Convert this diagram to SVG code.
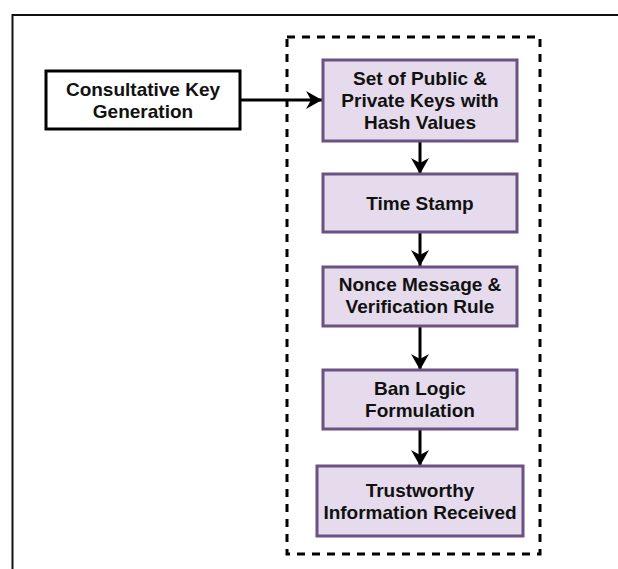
<svg xmlns="http://www.w3.org/2000/svg" width="618" height="569" viewBox="0 0 618 569">
  <style>
    .t { font-family: "Liberation Sans", Arial, sans-serif; font-weight: bold; font-size: 19px; fill: #111; text-anchor: middle; }
    .step { fill: #e5dbec; stroke: #6b5282; stroke-width: 3; }
    .plain { fill: #ffffff; stroke: #000; stroke-width: 3; }
    .conn { stroke: #000; stroke-width: 3; fill: none; }
  </style>
  <defs>
    <marker id="ah" markerUnits="userSpaceOnUse" viewBox="0 0 16 18" refX="16" refY="9" markerWidth="16" markerHeight="18" orient="auto">
      <path d="M0,0 L16,9 L0,18 L5,9 Z" fill="#000"/>
    </marker>
  </defs>
  <rect width="618" height="569" fill="#ffffff"/>
  <g id="frame">
    <path d="M12.5,569 V15 H618" fill="none" stroke="#111" stroke-width="2"/>
  </g>
  <g id="group-box">
    <rect x="287" y="37" width="253" height="517" fill="none" stroke="#000" stroke-width="3" stroke-dasharray="8 7"/>
  </g>
  <g id="connectors">
    <line class="conn" x1="240" y1="100" x2="322" y2="100" marker-end="url(#ah)"/>
    <line class="conn" x1="420" y1="142" x2="420" y2="174" marker-end="url(#ah)"/>
    <line class="conn" x1="420" y1="233" x2="420" y2="266" marker-end="url(#ah)"/>
    <line class="conn" x1="420" y1="326" x2="420" y2="370" marker-end="url(#ah)"/>
    <line class="conn" x1="420" y1="430" x2="420" y2="466" marker-end="url(#ah)"/>
  </g>
  <g id="consultative-key-generation">
    <rect class="plain" x="46" y="71" width="194" height="58"/>
    <text class="t" x="143" y="96">Consultative Key</text>
    <text class="t" x="143" y="118">Generation</text>
  </g>
  <g id="public-private-keys">
    <rect class="step" x="323" y="60" width="194" height="81"/>
    <text class="t" x="420" y="85">Set of Public &amp;</text>
    <text class="t" x="420" y="107">Private Keys with</text>
    <text class="t" x="420" y="129">Hash Values</text>
  </g>
  <g id="time-stamp">
    <rect class="step" x="323" y="174" width="194" height="58"/>
    <text class="t" x="420" y="210">Time Stamp</text>
  </g>
  <g id="nonce-message">
    <rect class="step" x="323" y="267" width="194" height="59"/>
    <text class="t" x="420" y="291">Nonce Message &amp;</text>
    <text class="t" x="420" y="313">Verification Rule</text>
  </g>
  <g id="ban-logic">
    <rect class="step" x="323" y="370" width="194" height="59"/>
    <text class="t" x="420" y="395">Ban Logic</text>
    <text class="t" x="420" y="417">Formulation</text>
  </g>
  <g id="trustworthy-information">
    <rect class="step" x="317" y="466" width="206" height="70"/>
    <text class="t" x="420" y="497">Trustworthy</text>
    <text class="t" x="420" y="519">Information Received</text>
  </g>
</svg>
